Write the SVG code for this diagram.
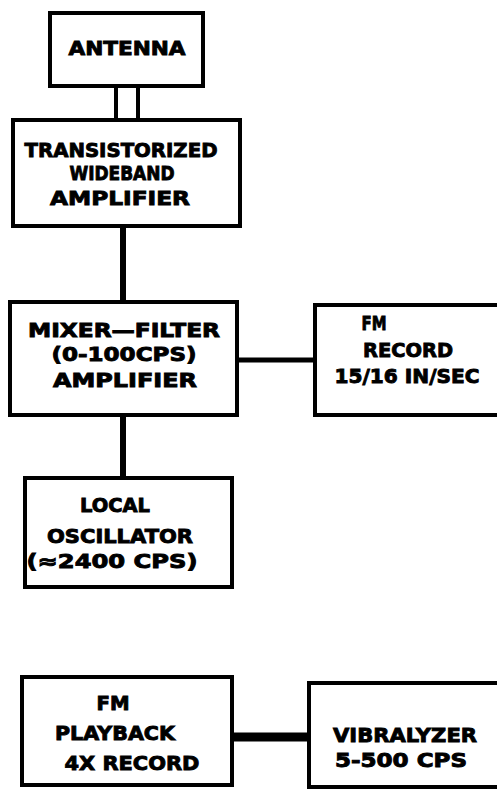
<svg xmlns="http://www.w3.org/2000/svg" width="497" height="789" viewBox="0 0 497 789">
<style>
.box{fill:#fff;stroke:#000;stroke-width:4}
.ln{stroke:#000;fill:none}
text{font-family:"DejaVu Sans","Liberation Sans",sans-serif;font-weight:bold;font-size:19.5px;text-anchor:middle;fill:#000;stroke:#000;stroke-width:0.9px}
</style>
<rect width="497" height="789" fill="#fff"/>
<g id="connectors">
<line class="ln" x1="116" y1="86" x2="116" y2="120" stroke-width="4"/>
<line class="ln" x1="138" y1="86" x2="138" y2="120" stroke-width="4"/>
<line class="ln" x1="123" y1="226" x2="123" y2="302" stroke-width="6"/>
<line class="ln" x1="237" y1="360" x2="315" y2="360" stroke-width="5"/>
<line class="ln" x1="123" y1="415" x2="123" y2="478" stroke-width="6"/>
<line class="ln" x1="232" y1="737" x2="309" y2="737" stroke-width="9"/>
</g>
<g id="antenna">
<rect class="box" x="50" y="13" width="153" height="73"/>
<text x="127" y="55" textLength="117" lengthAdjust="spacingAndGlyphs">ANTENNA</text>
</g>
<g id="amplifier">
<rect class="box" x="13" y="120" width="227" height="106"/>
<text x="121" y="157" textLength="193" lengthAdjust="spacingAndGlyphs">TRANSISTORIZED</text>
<text x="122" y="180" textLength="105" lengthAdjust="spacingAndGlyphs">WIDEBAND</text>
<text x="120" y="205" textLength="140" lengthAdjust="spacingAndGlyphs">AMPLIFIER</text>
</g>
<g id="mixer">
<rect class="box" x="10" y="302" width="227" height="113"/>
<text x="124" y="337" textLength="192" lengthAdjust="spacingAndGlyphs">MIXER—FILTER</text>
<text x="124" y="361" textLength="145" lengthAdjust="spacingAndGlyphs">(0-100CPS)</text>
<text x="125" y="387" textLength="144" lengthAdjust="spacingAndGlyphs">AMPLIFIER</text>
</g>
<g id="fm-record">
<rect class="box" x="315" y="305" width="190" height="110"/>
<text x="374" y="330" textLength="25" lengthAdjust="spacingAndGlyphs">FM</text>
<text x="408" y="357" textLength="90" lengthAdjust="spacingAndGlyphs">RECORD</text>
<text x="407" y="383" textLength="145" lengthAdjust="spacingAndGlyphs">15/16 IN/SEC</text>
</g>
<g id="oscillator">
<rect class="box" x="25" y="478" width="207" height="109"/>
<text x="115" y="512" textLength="70" lengthAdjust="spacingAndGlyphs">LOCAL</text>
<text x="120" y="543" textLength="146" lengthAdjust="spacingAndGlyphs">OSCILLATOR</text>
<text x="112" y="568" textLength="171" lengthAdjust="spacingAndGlyphs">(≈2400 CPS)</text>
</g>
<g id="fm-playback">
<rect class="box" x="22" y="677" width="210" height="108"/>
<text x="113" y="710" textLength="33" lengthAdjust="spacingAndGlyphs">FM</text>
<text x="115" y="740" textLength="120" lengthAdjust="spacingAndGlyphs">PLAYBACK</text>
<text x="132" y="770" textLength="135" lengthAdjust="spacingAndGlyphs">4X RECORD</text>
</g>
<g id="vibralyzer">
<rect class="box" x="309" y="683" width="196" height="104"/>
<text x="405" y="742" textLength="144" lengthAdjust="spacingAndGlyphs">VIBRALYZER</text>
<text x="401" y="767" textLength="132" lengthAdjust="spacingAndGlyphs">5-500 CPS</text>
</g>
</svg>
